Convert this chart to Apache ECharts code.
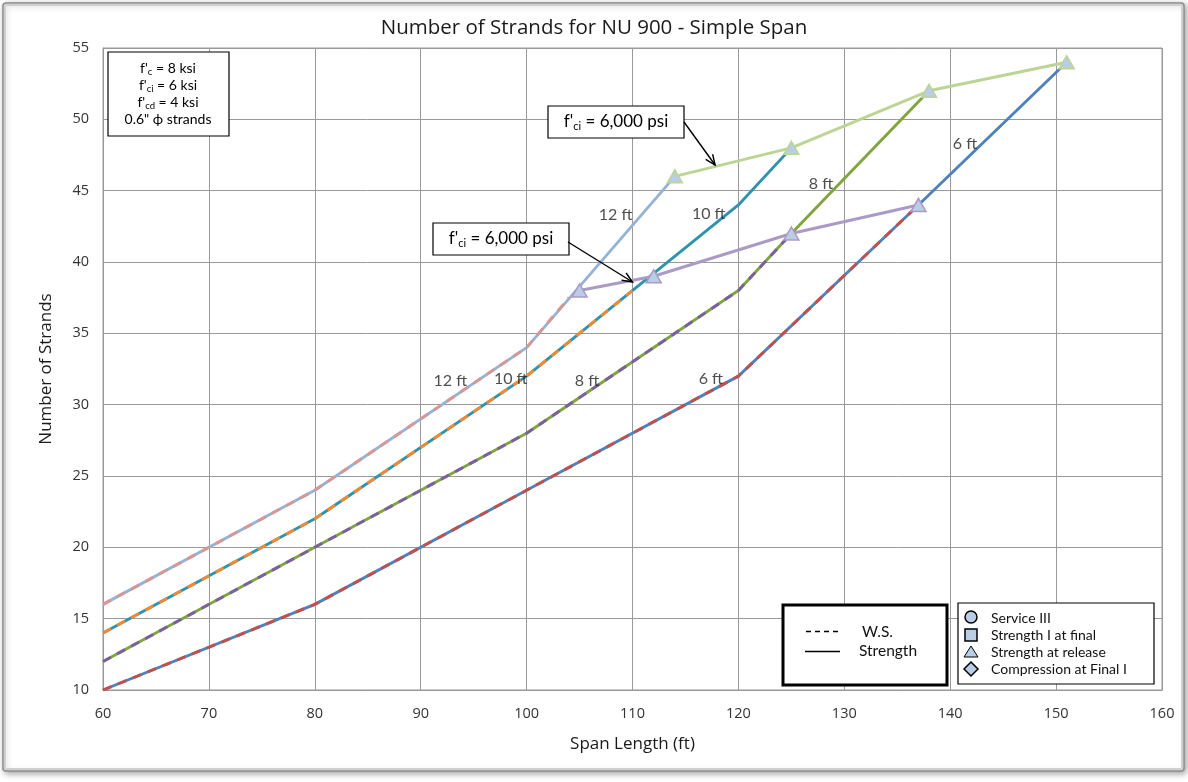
<!DOCTYPE html>
<html><head><meta charset="utf-8">
<script src="https://cdn.jsdelivr.net/npm/echarts@6/dist/echarts.min.js"></script>
<style>html,body{margin:0;padding:0;background:#fff}#c{width:1188px;height:782px}</style>
</head><body><div id="c"></div>
<script>
// ---- data ----
const xTicks = [60, 70, 80, 90, 100, 110, 120, 130, 140, 150, 160];
const yTicks = [10, 15, 20, 25, 30, 35, 40, 45, 50, 55];

const strength6  = [[60,10],[80,16],[100,24],[120,32],[137,44],[151,54]];
const ws6        = [[60,10],[80,16],[100,24],[120,32],[137,44]];
const strength8  = [[60,12],[80,20],[100,28],[120,38],[125,42],[138,52]];
const ws8        = [[60,12],[80,20],[100,28],[120,38],[125,42]];
const strength10 = [[60,14],[80,22],[100,32],[120,44],[125,48]];
const ws10       = [[60,14],[80,22],[100,32],[110,38]];
const strength12 = [[60,16],[80,24],[100,34],[114,46]];
const ws12       = [[60,16],[80,24],[100,34],[104,37.5]];

const releaseLow  = [[105,38],[112,39],[125,42],[137,44]];   // f'ci = 6,000 psi (purple)
const releaseHigh = [[114,46],[125,48],[138,52],[151,54]];   // f'ci = 6,000 psi (green)

const spanLabels = [
  {name:'12 ft', value:[92.8,31.7]}, {name:'10 ft', value:[98.5,31.8]},
  {name:'8 ft', value:[105.7,31.7]}, {name:'6 ft', value:[117.4,31.8]},
  {name:'12 ft', value:[108.4,43.3]}, {name:'10 ft', value:[117.2,43.4]},
  {name:'8 ft', value:[127.8,45.5]}, {name:'6 ft', value:[141.4,48.3]}
];

const FONT = '"Open Sans", "DejaVu Sans", sans-serif';
const FONT2 = 'Lato, "Open Sans", sans-serif';
const markerFill = '#B9CDE5';

function solid(data, color, z) {
  return {type:'line', data, symbol:'none', z, lineStyle:{color, width:2.9}, itemStyle:{color}, animation:false};
}
function dashed(data, color, z) {
  return {type:'line', data, symbol:'none', z, lineStyle:{color, width:2.9, type:[9,7]}, itemStyle:{color}, animation:false};
}
function release(data, color) {
  return {type:'line', data, symbol:'triangle', symbolSize:[15,13], z:10,
    lineStyle:{color, width:3}, itemStyle:{color:markerFill, borderColor:color, borderWidth:1.5}, animation:false};
}

const chart = echarts.init(document.getElementById('c'), null, {renderer:'canvas'});

const sub = {fontSize:9.5, fontFamily:FONT2, color:'#000', verticalAlign:'bottom', lineHeight:17, padding:[6,0,0,0]};
const big = {fontSize:14, fontFamily:FONT2, color:'#000', lineHeight:17};

chart.setOption({
  backgroundColor:'#fff',
  animation:false,
  title:{text:'Number of Strands for NU 900 - Simple Span', left:'center', top:13,
    textStyle:{fontFamily:FONT, fontSize:20.5, fontWeight:'normal', color:'#1a1a1a'}},
  grid:{left:103, right:26, top:48, bottom:92, show:true, borderColor:'#999', borderWidth:1},
  xAxis:{type:'value', min:xTicks[0], max:xTicks[xTicks.length-1], interval:10,
    name:'Span Length (ft)', nameLocation:'middle', nameGap:46,
    nameTextStyle:{fontFamily:FONT, fontSize:17, color:'#1a1a1a'},
    axisLine:{show:true, lineStyle:{color:'#999'}}, axisTick:{show:false},
    axisLabel:{fontFamily:FONT, fontSize:14.5, color:'#333', margin:16},
    splitLine:{show:true, lineStyle:{color:'#9a9a9a', width:1}}},
  yAxis:{type:'value', min:yTicks[0], max:yTicks[yTicks.length-1], interval:5,
    name:'Number of Strands', nameLocation:'middle', nameGap:48, nameRotate:90,
    nameTextStyle:{fontFamily:FONT, fontSize:17, color:'#1a1a1a'},
    axisLine:{show:true, lineStyle:{color:'#999'}}, axisTick:{show:false},
    axisLabel:{fontFamily:FONT, fontSize:14.5, color:'#333', margin:14},
    splitLine:{show:true, lineStyle:{color:'#9a9a9a', width:1}}},
  series:[
    solid(strength6, '#4F81BD', 2),
    dashed(ws6, '#C0504D', 3),
    solid(strength8, '#7FA53C', 2),
    dashed(ws8, '#7B5FA0', 3),
    solid(strength10, '#2E94AE', 2),
    dashed(ws10, '#F08A35', 3),
    solid(strength12, '#95B3D7', 2),
    dashed(ws12, '#D99694', 3),
    release(releaseLow, '#AC9AC6'),
    release(releaseHigh, '#BCD595'),
    {type:'scatter', data:spanLabels, symbolSize:0, z:12, silent:true,
      label:{show:true, position:'inside', formatter:p=>p.name, fontFamily:FONT2, fontSize:16, color:'#222'}}
  ]
});

function arrow(x1,y1,x2,y2) {
  const a = Math.atan2(y2-y1, x2-x1), L = 11, w = 0.4;
  return [
    {type:'line', z:50, shape:{x1,y1,x2,y2}, style:{stroke:'#000', lineWidth:1.4}},
    {type:'polyline', z:50, shape:{points:[[x2-L*Math.cos(a-w), y2-L*Math.sin(a-w)],[x2,y2],[x2-L*Math.cos(a+w), y2-L*Math.sin(a+w)]]},
      style:{stroke:'#000', lineWidth:1.4, fill:null}}
  ];
}
function box(x,y,w,h,lw) {
  return {type:'rect', z:40, shape:{x,y,width:w,height:h}, style:{fill:'#fff', stroke:'#000', lineWidth:lw||1.2}};
}
function fciText(cx, cy) {
  return {type:'text', z:45, x:cx, y:cy, style:{
    text:'{a|f\'}{s|ci}{a| = 6,000 psi}', align:'center', verticalAlign:'middle',
    rich:{a:{fontSize:17, fontFamily:FONT2, color:'#000', lineHeight:20},
          s:{fontSize:11, fontFamily:FONT2, color:'#000', lineHeight:20, verticalAlign:'bottom', padding:[7,0,0,0]}}}};
}

// arrow tips anchored to data coordinates
const tipHigh = chart.convertToPixel({gridIndex:0}, [117.8, 46.8]);
const tipLow  = chart.convertToPixel({gridIndex:0}, [110.0, 38.6]);

const legText = (x, y, t, fs) => ({type:'text', z:45, x, y, style:{text:t, fontFamily:FONT2, fontSize:fs, fill:'#111', verticalAlign:'middle'}});

chart.setOption({graphic:[
  // outer frame
  {type:'rect', z:-10, silent:true, shape:{x:3,y:3,width:1181,height:768,r:3},
    style:{fill:'#fff', stroke:'#8a8a8a', lineWidth:1.5, shadowBlur:6, shadowColor:'rgba(0,0,0,0.35)', shadowOffsetX:2, shadowOffsetY:2}},
  {type:'rect', z:-9, silent:true, shape:{x:5,y:5,width:1177,height:764},
    style:{fill:null, stroke:'#d0d0d0', lineWidth:2}},
  // material box
  box(108,52,121,84),
  {type:'text', z:45, x:168, y:94, style:{
    text:['{a|f\'}{s|c}{a| = 8 ksi}','{a|f\'}{s|ci}{a| = 6 ksi}','{a|f\'}{s|cd}{a| = 4 ksi}','{a|0.6" ϕ strands}'].join('\n'),
    align:'center', verticalAlign:'middle', rich:{a:big, s:sub}}},
  // annotation boxes
  box(548,106,136,32), fciText(616,122),
  ...arrow(684,122, tipHigh[0], tipHigh[1]),
  box(433,223,136,32), fciText(501,239),
  ...arrow(568,242, tipLow[0], tipLow[1]),
  // legend 1
  box(783,605,164,80,3),
  {type:'line', z:45, shape:{x1:806,y1:631.5,x2:840,y2:631.5}, style:{stroke:'#000', lineWidth:1.5, lineDash:[5,4]}},
  {type:'line', z:45, shape:{x1:805,y1:651.5,x2:840,y2:651.5}, style:{stroke:'#000', lineWidth:1.5}},
  legText(862, 632, 'W.S.', 15.5),
  legText(859, 651, 'Strength', 15.5),
  // legend 2
  box(958,603,196,81,1.2),
  {type:'circle', z:45, shape:{cx:971,cy:617,r:6}, style:{fill:markerFill, stroke:'#000', lineWidth:1.5}},
  {type:'rect', z:45, shape:{x:965,y:629,width:12,height:12}, style:{fill:markerFill, stroke:'#000', lineWidth:1.5}},
  {type:'polygon', z:45, shape:{points:[[971,646],[978,657],[964,657]]}, style:{fill:markerFill, stroke:'#000', lineWidth:1}},
  {type:'polygon', z:45, shape:{points:[[971,662],[978,669],[971,676],[964,669]]}, style:{fill:markerFill, stroke:'#000', lineWidth:1.5}},
  legText(991, 618, 'Service III', 14),
  legText(991, 635, 'Strength I at final', 14),
  legText(991, 652, 'Strength at release', 14),
  legText(991, 669, 'Compression at Final I', 14)
]});
</script></body></html>
